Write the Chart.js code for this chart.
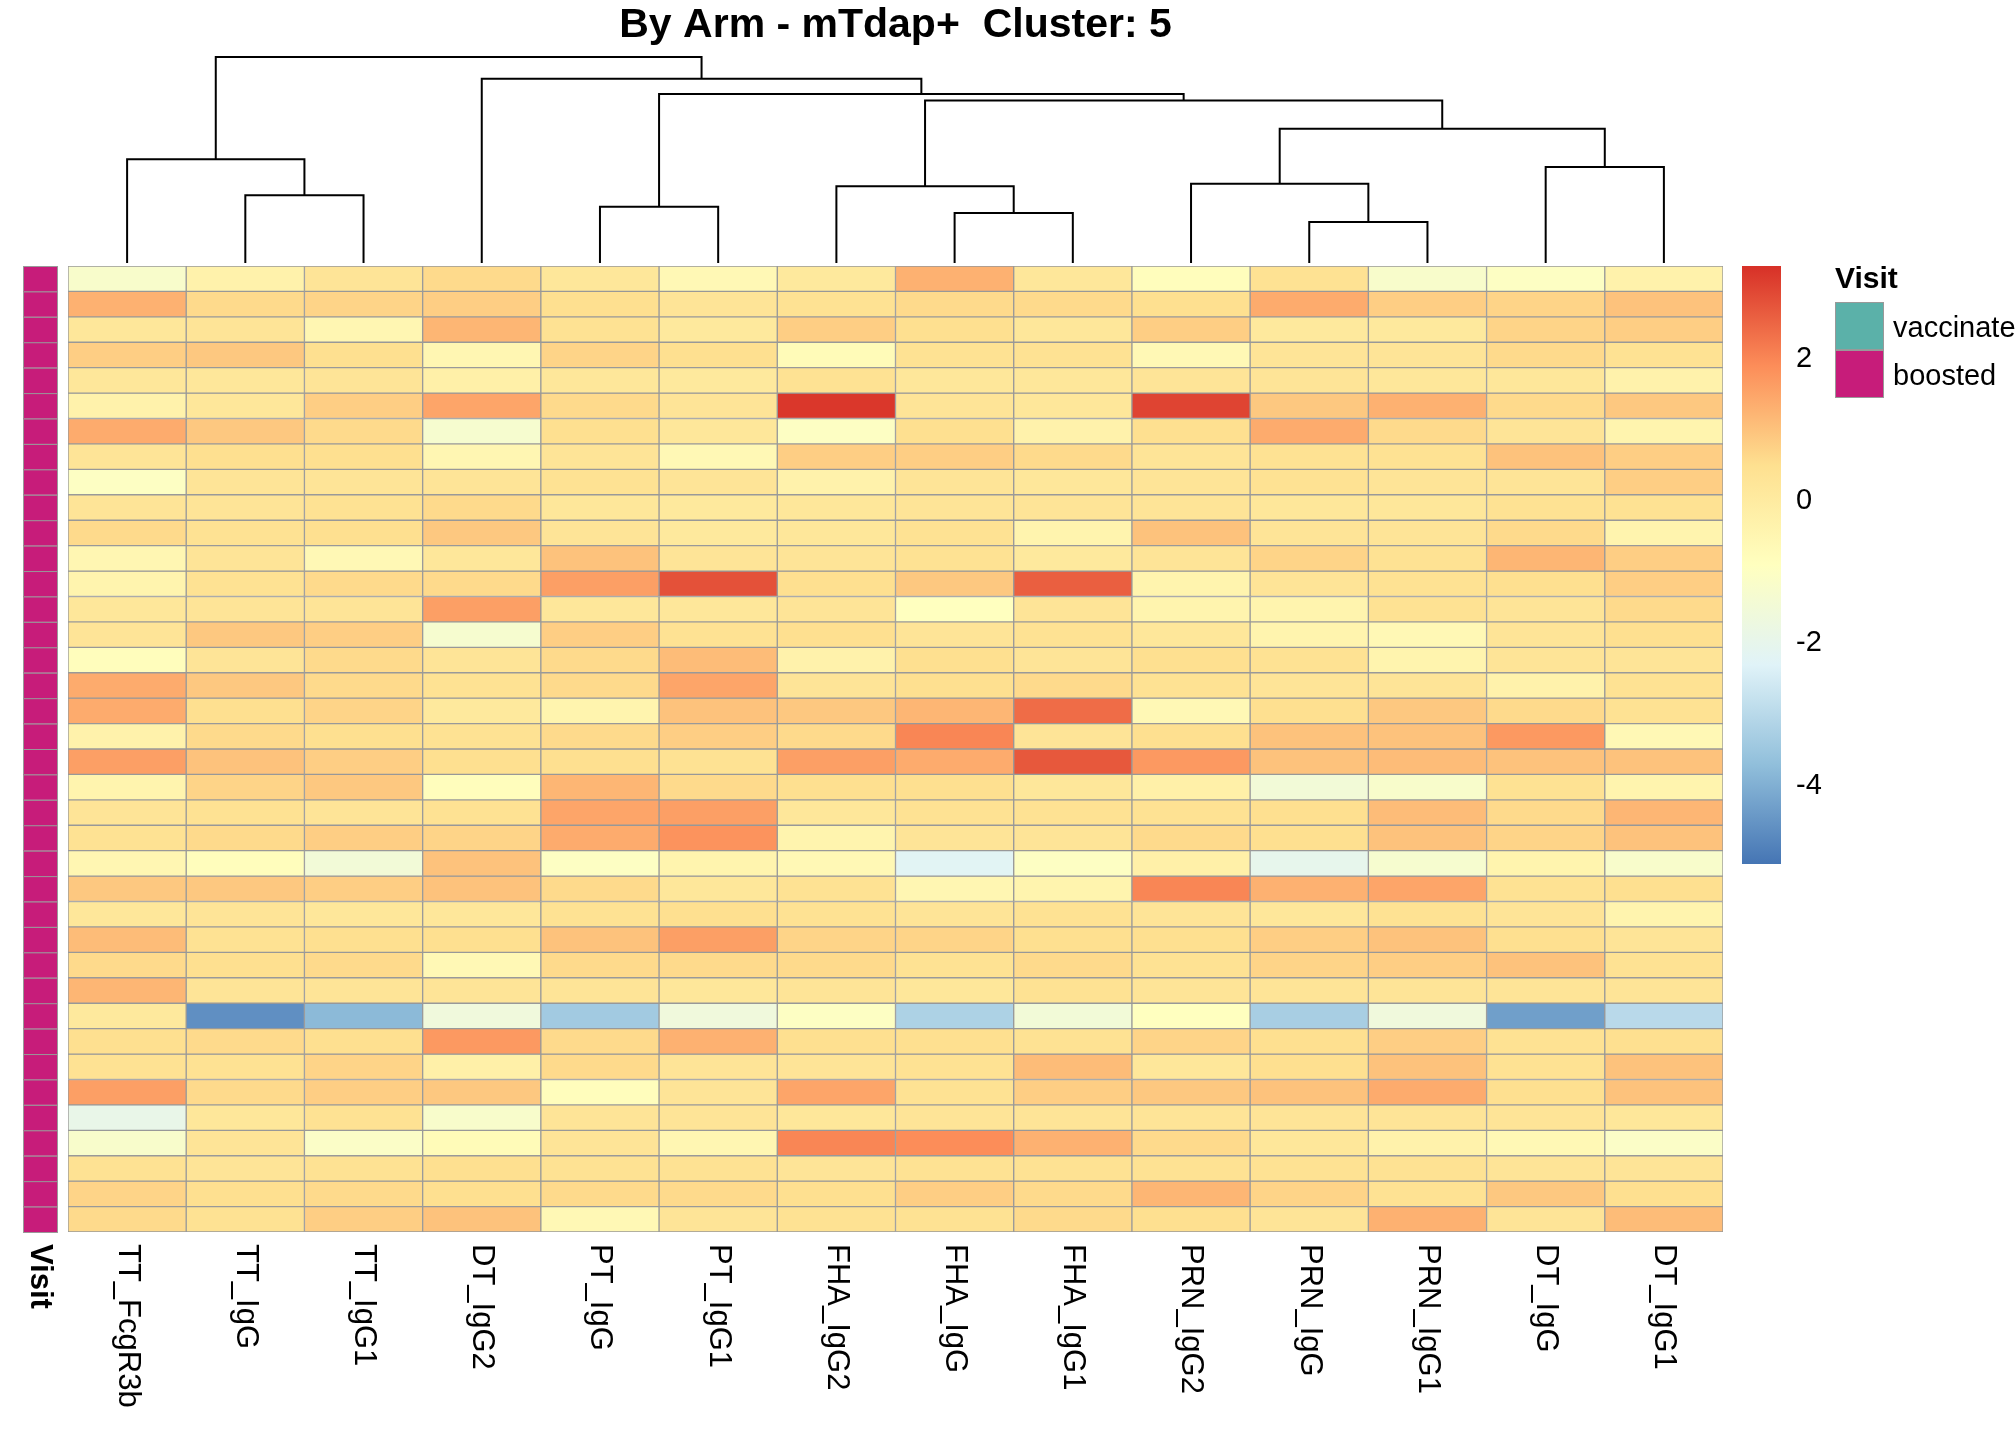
<!DOCTYPE html>
<html>
<head>
<meta charset="utf-8">
<script src="https://cdn.jsdelivr.net/npm/chart.js@4/dist/chart.umd.min.js"></script>
<style>
  body { margin: 0; background: #fff; }
</style>
</head>
<body>
<canvas id="chart" width="2016" height="1440"></canvas>
<script>
// column labels, in dendrogram order
const columns = ['TT_FcgR3b', 'TT_IgG', 'TT_IgG1', 'DT_IgG2', 'PT_IgG', 'PT_IgG1', 'FHA_IgG2',
    'FHA_IgG', 'FHA_IgG1', 'PRN_IgG2', 'PRN_IgG', 'PRN_IgG1', 'DT_IgG', 'DT_IgG1'];

// scaled values, one row per sample (top to bottom)
const rows = [
    [-1.2, -0.3, 0.3, 0.6, 0.2, -0.6, 0.1, 1.3, 0.2, -0.8, 0.4, -1.2, -1.0, -0.3],
    [1.3, 0.6, 0.7, 0.8, 0.5, 0.3, 0.4, 0.6, 0.6, 0.5, 1.4, 0.8, 0.7, 1.0],
    [0.2, 0.3, -0.5, 1.2, 0.4, 0.1, 0.8, 0.5, 0.2, 0.8, 0.1, 0.1, 0.7, 0.8],
    [0.8, 0.9, 0.5, -0.5, 0.7, 0.5, -0.7, 0.4, 0.4, -0.6, 0.3, 0.3, 0.6, 0.4],
    [0.2, 0.2, 0.3, -0.2, 0.2, 0.1, 0.4, 0.2, 0.2, 0.3, 0.3, 0.2, 0.2, -0.3],
    [-0.3, 0.2, 0.8, 1.5, 0.6, 0.3, 3.2, 0.3, 0.2, 3.0, 0.9, 1.3, 0.6, 0.9],
    [1.4, 0.9, 0.6, -1.3, 0.5, 0.2, -1.0, 0.5, -0.3, 0.5, 1.4, 0.6, 0.3, -0.4],
    [0.3, 0.5, 0.5, -0.5, 0.3, -0.6, 0.8, 0.8, 0.6, 0.3, 0.4, 0.4, 1.0, 0.8],
    [-1.0, 0.3, 0.3, 0.3, 0.4, 0.3, -0.3, 0.3, 0.2, 0.3, 0.4, 0.3, 0.3, 0.8],
    [0.3, 0.3, 0.4, 0.6, 0.2, 0.1, 0.2, 0.3, 0.3, 0.3, 0.2, 0.2, 0.4, 0.4],
    [0.6, 0.4, 0.5, 0.9, 0.3, 0.1, 0.2, 0.4, -0.4, 1.0, 0.3, 0.3, 0.6, -0.4],
    [-0.5, 0.3, -0.6, 0.2, 1.0, 0.3, 0.3, 0.4, 0.1, 0.3, 0.7, 0.4, 1.2, 0.8],
    [-0.4, 0.4, 0.6, 0.6, 1.6, 2.8, 0.5, 0.9, 2.6, -0.4, 0.3, 0.4, 0.5, 0.8],
    [0.2, 0.3, 0.3, 1.6, 0.2, 0.2, 0.3, -0.9, 0.3, -0.4, -0.4, 0.4, 0.3, 0.6],
    [0.3, 0.9, 0.8, -1.3, 0.8, 0.4, 0.5, 0.3, 0.4, 0.2, -0.4, -0.6, 0.3, 0.5],
    [-0.8, 0.3, 0.6, 0.3, 0.6, 1.1, -0.3, 0.5, 0.3, 0.5, 0.4, -0.4, 0.3, 0.3],
    [1.4, 0.9, 0.6, 0.4, 0.6, 1.5, 0.3, 0.5, 0.6, 0.4, 0.3, 0.3, -0.3, 0.4],
    [1.4, 0.5, 0.7, 0.1, -0.4, 1.0, 0.9, 1.2, 2.4, -0.6, 0.5, 0.9, 0.6, 0.4],
    [-0.3, 0.6, 0.5, 0.4, 0.6, 0.8, 0.6, 2.0, 0.3, 0.5, 1.0, 1.0, 1.7, -0.6],
    [1.6, 1.0, 0.8, 0.5, 0.5, 0.4, 1.6, 1.4, 2.7, 1.7, 1.0, 1.1, 1.0, 1.0],
    [-0.4, 0.7, 0.9, -0.8, 1.2, 0.6, 0.5, 0.5, 0.2, -0.2, -1.5, -1.2, 0.4, -0.4],
    [0.3, 0.4, 0.3, 0.4, 1.5, 1.6, 0.2, 0.4, 0.4, 0.4, 0.5, 1.1, 0.6, 1.2],
    [0.4, 0.6, 0.8, 0.7, 1.4, 1.8, -0.4, 0.3, 0.3, 0.6, 0.5, 1.0, 0.7, 1.0],
    [-0.5, -0.8, -1.5, 1.0, -1.0, -0.4, -0.6, -2.2, -1.0, -0.2, -2.0, -1.3, -0.4, -1.2],
    [0.9, 0.9, 0.8, 1.0, 0.6, 0.2, 0.4, -0.5, -0.4, 2.0, 1.3, 1.5, 0.4, 0.5],
    [0.2, 0.3, 0.2, 0.2, 0.4, 0.5, 0.4, 0.3, 0.4, 0.3, 0.2, 0.4, 0.3, -0.4],
    [1.1, 0.4, 0.5, 0.5, 1.0, 1.6, 0.7, 0.7, 0.5, 0.5, 0.8, 1.0, 0.5, 0.3],
    [0.6, 0.5, 0.6, -0.6, 0.6, 0.6, 0.6, 0.4, 0.6, 0.4, 0.7, 0.8, 1.0, 0.4],
    [1.2, 0.3, 0.3, 0.3, 0.3, 0.2, 0.3, 0.2, 0.4, 0.3, 0.3, 0.3, 0.3, 0.3],
    [0.1, -4.6, -3.8, -1.6, -3.4, -1.6, -1.0, -3.2, -1.5, -0.9, -3.3, -1.6, -4.3, -3.0],
    [0.5, 0.6, 0.5, 1.7, 0.6, 1.3, 0.5, 0.5, 0.4, 0.7, 0.5, 0.8, 0.4, 0.5],
    [0.4, 0.4, 0.7, -0.2, 0.6, 0.3, 0.3, 0.4, 1.1, 0.2, 0.5, 1.0, 0.4, 1.0],
    [1.6, 0.6, 0.8, 0.9, -0.8, 0.3, 1.5, 0.4, 0.8, 0.9, 1.0, 1.4, 0.5, 1.0],
    [-1.9, 0.2, 0.4, -1.2, 0.3, 0.3, 0.2, 0.3, 0.3, 0.3, 0.3, 0.3, 0.3, 0.2],
    [-1.2, 0.3, -1.1, -0.7, 0.3, -0.5, 2.0, 1.9, 1.3, 0.6, 0.2, -0.3, -0.6, -1.1],
    [0.4, 0.3, 0.4, 0.5, 0.4, 0.4, 0.3, 0.4, 0.4, 0.4, 0.4, 0.4, 0.3, 0.3],
    [0.7, 0.5, 0.6, 0.5, 0.6, 0.6, 0.5, 0.8, 0.6, 1.2, 0.7, 0.4, 0.9, 0.5],
    [0.6, 0.4, 0.8, 1.0, -0.6, 0.3, 0.4, 0.4, 0.6, 0.5, 0.3, 1.3, 0.3, 1.1]
];

// column dendrogram merges: [left, right, height]; negative = leaf index (-1 - i), else merge index
const merges = [
    [-2, -3, 53],     // 0: TT_IgG + TT_IgG1
    [-1, 0, 81],      // 1
    [-5, -6, 44],     // 2: PT
    [-8, -9, 39],     // 3: FHA_IgG + FHA_IgG1
    [-7, 3, 60],      // 4
    [-11, -12, 32],   // 5: PRN_IgG + PRN_IgG1
    [-10, 5, 62],     // 6
    [-13, -14, 75],   // 7: DT
    [6, 7, 105],      // 8
    [4, 8, 127],      // 9
    [2, 9, 132],      // 10
    [-4, 10, 144],    // 11
    [1, 11, 161]      // 12
];

const colorTicks = [2, 0, -2, -4];
const valueMin = -5.1, valueMax = 3.3;
const palette = ['#4575B4', '#91BFDB', '#E0F3F8', '#FFFFBF', '#FEE090', '#FC8D59', '#D73027'];

function hexToRgb(h) {
    return [parseInt(h.slice(1, 3), 16), parseInt(h.slice(3, 5), 16), parseInt(h.slice(5, 7), 16)];
}
function colorFor(v) {
    let t = (v - valueMin) / (valueMax - valueMin);
    t = Math.max(0, Math.min(1, t)) * (palette.length - 1);
    const i = Math.min(Math.floor(t), palette.length - 2);
    const f = t - i;
    const a = hexToRgb(palette[i]), b = hexToRgb(palette[i + 1]);
    return 'rgb(' + a.map((c, k) => Math.round(c + (b[k] - c) * f)).join(',') + ')';
}

const datasets = rows.map((r, i) => ({
    label: 'row' + (i + 1),
    data: columns.map(() => 1),
    backgroundColor: r.map(colorFor),
    borderColor: '#999999',
    borderWidth: 1,
    borderSkipped: false,
    barPercentage: 1,
    categoryPercentage: 1
}));

const FONT = '"Liberation Sans", Arial, sans-serif';

const decor = {
    id: 'decor',
    afterDraw(chart) {
        const ctx = chart.ctx;
        const xs = chart.scales.x, ys = chart.scales.y;
        const top = ys.getPixelForValue(0), bottom = ys.getPixelForValue(rows.length);
        ctx.save();

        // title
        ctx.fillStyle = '#000';
        ctx.font = 'bold 41px ' + FONT;
        ctx.textAlign = 'center';
        ctx.textBaseline = 'middle';
        ctx.fillText('By Arm - mTdap+  Cluster: 5', (xs.left + xs.right) / 2, 26);

        // dendrogram
        const dBottom = top - 3, dTop = 57, hMax = 161;
        const hy = h => dBottom - (dBottom - dTop) * h / hMax;
        const nodes = [];
        const pos = n => n < 0 ? { x: xs.getPixelForValue(-1 - n), y: dBottom } : nodes[n];
        ctx.strokeStyle = '#000';
        ctx.lineWidth = 2;
        merges.forEach(([l, r, h]) => {
            const a = pos(l), b = pos(r), y = hy(h);
            ctx.beginPath();
            ctx.moveTo(a.x, a.y); ctx.lineTo(a.x, y); ctx.lineTo(b.x, y); ctx.lineTo(b.x, b.y);
            ctx.stroke();
            nodes.push({ x: (a.x + b.x) / 2, y: y });
        });

        // Visit annotation column
        ctx.lineWidth = 1;
        ctx.strokeStyle = '#999999';
        for (let i = 0; i < rows.length; i++) {
            const y0 = ys.getPixelForValue(i), y1 = ys.getPixelForValue(i + 1);
            ctx.fillStyle = '#C71C7A';
            ctx.fillRect(23, y0, 34, y1 - y0);
            ctx.strokeRect(23.5, y0 + 0.5, 34, y1 - y0);
        }

        // rotated labels below
        ctx.fillStyle = '#000';
        ctx.textAlign = 'left';
        ctx.textBaseline = 'middle';
        const drawDown = (text, x, bold) => {
            ctx.save();
            ctx.translate(x, bottom + 12);
            ctx.rotate(Math.PI / 2);
            ctx.font = (bold ? 'bold ' : '') + '31px ' + FONT;
            ctx.fillText(text, 0, 0);
            ctx.restore();
        };
        drawDown('Visit', 40, true);
        columns.forEach((c, i) => drawDown(c, xs.getPixelForValue(i), false));

        // colour bar
        const cbX = 1742, cbW = 39, cbTop = top, cbBottom = 864;
        const grad = ctx.createLinearGradient(0, cbBottom, 0, cbTop);
        palette.forEach((p, i) => grad.addColorStop(i / (palette.length - 1), p));
        ctx.fillStyle = grad;
        ctx.fillRect(cbX, cbTop, cbW, cbBottom - cbTop);
        ctx.fillStyle = '#000';
        ctx.font = '29px ' + FONT;
        ctx.textAlign = 'left';
        colorTicks.forEach(t => {
            const y = cbBottom - (t - valueMin) / (valueMax - valueMin) * (cbBottom - cbTop);
            ctx.fillText(String(t), 1796, y);
        });

        // Visit legend
        ctx.font = 'bold 30px ' + FONT;
        ctx.fillText('Visit', 1835, 280);
        ctx.font = '29px ' + FONT;
        [['vaccinated', '#5BB1A9'], ['boosted', '#C71C7A']].forEach(([lab, col], i) => {
            const y = 302 + i * 48;
            ctx.fillStyle = col;
            ctx.fillRect(1835, y, 48, 47);
            ctx.strokeStyle = '#999999';
            ctx.strokeRect(1835.5, y + 0.5, 48, 47);
            ctx.fillStyle = '#000';
            ctx.fillText(lab, 1893, y + 27);
        });
        ctx.restore();
    }
};

new Chart(document.getElementById('chart').getContext('2d'), {
    type: 'bar',
    data: { labels: columns, datasets: datasets },
    options: {
        responsive: false,
        devicePixelRatio: 1,
        animation: false,
        layout: { padding: { left: 68, right: 293, top: 266, bottom: 208 } },
        plugins: { legend: { display: false }, tooltip: { enabled: false }, title: { display: false } },
        scales: {
            x: { stacked: true, display: false, grid: { display: false } },
            y: { stacked: true, display: false, min: 0, max: rows.length, reverse: true, grid: { display: false } }
        }
    },
    plugins: [decor]
});
</script>
</body>
</html>
